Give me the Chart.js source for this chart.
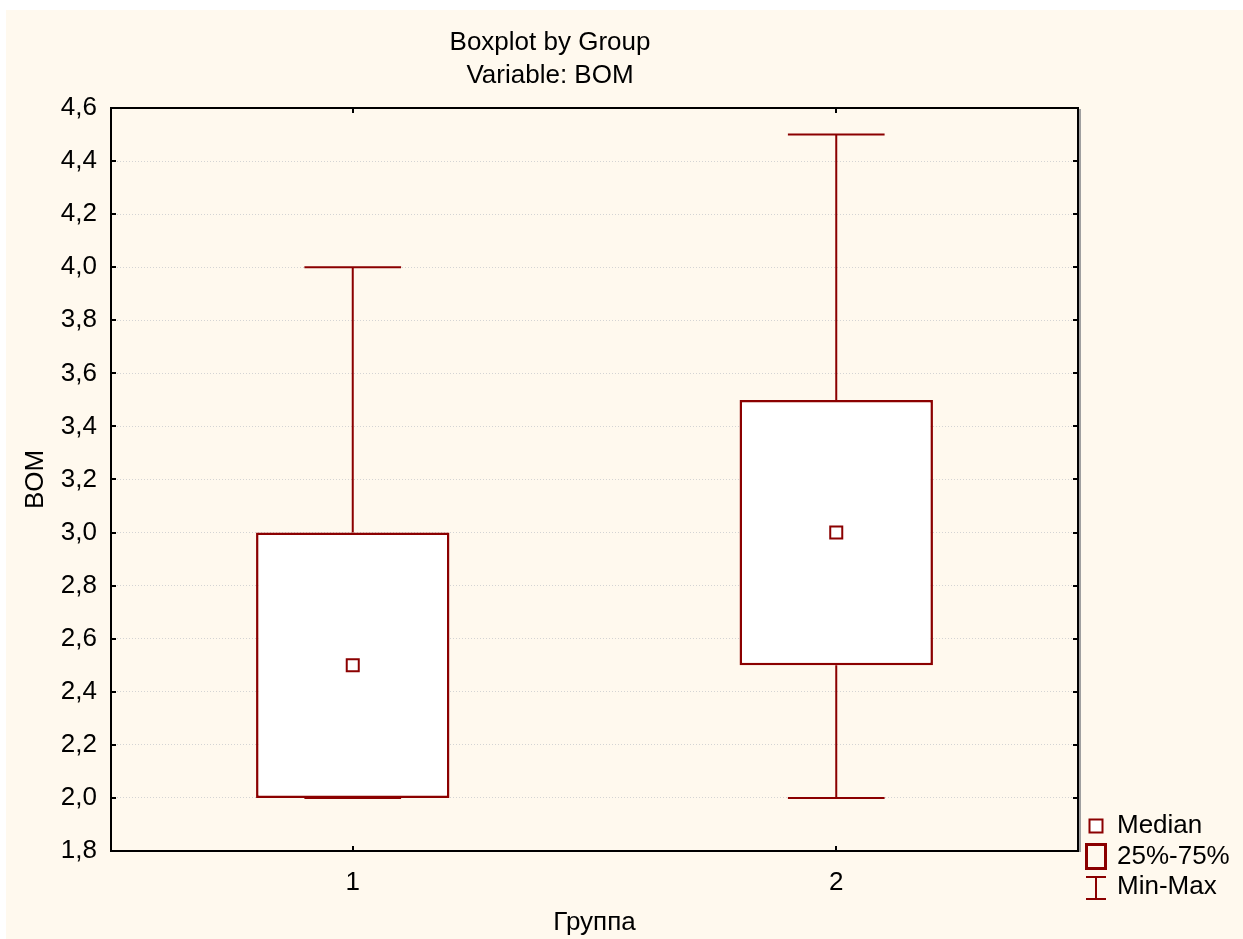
<!DOCTYPE html>
<html>
<head>
<meta charset="utf-8">
<script src="https://cdn.jsdelivr.net/npm/chart.js@4"></script>
<style>
  html, body { margin: 0; padding: 0; background: #ffffff; }
  #frame { position: absolute; left: 6px; top: 10px; width: 1237px; height: 929px; background: #fff9ee; }
  canvas { display: block; }
</style>
</head>
<body>
<div id="frame"><canvas id="chart" width="1237" height="929"></canvas></div>
<script>
// Group labels and five-number summaries of BOM per group
const groups = ['1', '2'];
const minValues = [2.0, 2.0];
const q1Values = [2.0, 2.5];
const medianValues = [2.5, 3.0];
const q3Values = [3.0, 3.5];
const maxValues = [4.0, 4.5];

// Value axis range and tick step
const yMin = 1.8;
const yMax = 4.6;
const yStep = 0.2;

const titleLines = ['Boxplot by Group', 'Variable: BOM'];
const legendLabels = ['Median', '25%-75%', 'Min-Max'];

const RED = '#8b0000';
const FONT_FAMILY = '"Liberation Sans", Arial, sans-serif';
const FONT_SIZE = 26;

// Whiskers (min-max lines with caps), drawn from the scales
const whiskerPlugin = {
  id: 'whiskers',
  beforeDatasetsDraw(chart) {
    const { ctx, scales: { y } } = chart;
    const bars = chart.getDatasetMeta(0).data;
    ctx.save();
    ctx.strokeStyle = RED;
    ctx.lineWidth = 2;
    groups.forEach((g, i) => {
      const bar = bars[i];
      const cx = bar.x;
      const half = bar.width / 4;
      const yMaxPx = y.getPixelForValue(maxValues[i]);
      const yMinPx = y.getPixelForValue(minValues[i]);
      const yQ1 = y.getPixelForValue(q1Values[i]);
      const yQ3 = y.getPixelForValue(q3Values[i]);
      ctx.beginPath();
      ctx.moveTo(cx, yQ3); ctx.lineTo(cx, yMaxPx);
      ctx.moveTo(cx - half, yMaxPx); ctx.lineTo(cx + half, yMaxPx);
      ctx.moveTo(cx, yQ1); ctx.lineTo(cx, yMinPx);
      ctx.moveTo(cx - half, yMinPx); ctx.lineTo(cx + half, yMinPx);
      ctx.stroke();
    });
    ctx.restore();
  }
};

// Plot frame with inward tick marks, title block and legend
const decorPlugin = {
  id: 'decor',
  afterDraw(chart) {
    const { ctx, chartArea: a, scales: { x, y } } = chart;
    ctx.save();
    // shadow on the right edge of the frame
    ctx.strokeStyle = '#a0a0a0';
    ctx.lineWidth = 2;
    ctx.beginPath();
    ctx.moveTo(a.right + 2, a.top + 1);
    ctx.lineTo(a.right + 2, a.bottom + 1);
    ctx.stroke();
    // frame
    ctx.strokeStyle = '#000';
    ctx.lineWidth = 2;
    ctx.strokeRect(a.left, a.top, a.right - a.left, a.bottom - a.top);
    // inward ticks
    const tl = 5;
    ctx.beginPath();
    y.ticks.forEach(t => {
      const py = Math.round(y.getPixelForValue(t.value));
      ctx.moveTo(a.left, py); ctx.lineTo(a.left + tl, py);
      ctx.moveTo(a.right, py); ctx.lineTo(a.right - tl, py);
    });
    groups.forEach((g, i) => {
      const px = Math.round(x.getPixelForValue(i));
      ctx.moveTo(px, a.bottom); ctx.lineTo(px, a.bottom - tl);
      ctx.moveTo(px, a.top); ctx.lineTo(px, a.top + tl);
    });
    ctx.stroke();

    // title
    ctx.fillStyle = '#000';
    ctx.font = `${FONT_SIZE}px ${FONT_FAMILY}`;
    ctx.textAlign = 'center';
    ctx.textBaseline = 'middle';
    ctx.fillText(titleLines[0], 544, 33);
    ctx.fillText(titleLines[1], 544, 66);

    // legend
    const lx = 1090;
    ctx.textAlign = 'left';
    ctx.fillText(legendLabels[0], 1111, 816);
    ctx.fillText(legendLabels[1], 1111, 847);
    ctx.fillText(legendLabels[2], 1111, 877);
    ctx.strokeStyle = RED;
    ctx.fillStyle = '#fff';
    // median marker
    ctx.lineWidth = 2;
    ctx.fillRect(lx - 6.5, 809.5, 13, 13);
    ctx.strokeRect(lx - 6.5, 809.5, 13, 13);
    // quartile box
    ctx.lineWidth = 3;
    ctx.strokeRect(lx - 9.5, 834.5, 19, 24);
    // min-max whisker
    ctx.lineWidth = 2;
    ctx.beginPath();
    ctx.moveTo(lx - 10, 867); ctx.lineTo(lx + 10, 867);
    ctx.moveTo(lx, 867); ctx.lineTo(lx, 889);
    ctx.moveTo(lx - 10, 889); ctx.lineTo(lx + 10, 889);
    ctx.stroke();
    ctx.restore();
  }
};

const tickFont = { family: FONT_FAMILY, size: FONT_SIZE };

new Chart(document.getElementById('chart'), {
  type: 'bar',
  data: {
    labels: groups,
    datasets: [
      {
        type: 'bar',
        label: legendLabels[1],
        data: groups.map((g, i) => [q1Values[i], q3Values[i]]),
        backgroundColor: '#ffffff',
        borderColor: RED,
        borderWidth: 2.5,
        borderSkipped: false,
        barPercentage: 0.4,
        categoryPercentage: 1,
        order: 2
      },
      {
        type: 'line',
        label: legendLabels[0],
        data: medianValues,
        showLine: false,
        pointStyle: 'rect',
        pointRadius: 8.5,
        pointHoverRadius: 8.5,
        pointBackgroundColor: '#ffffff',
        pointBorderColor: RED,
        pointBorderWidth: 2,
        order: 1
      }
    ]
  },
  options: {
    responsive: false,
    devicePixelRatio: 1,
    animation: false,
    events: [],
    layout: { padding: { left: 0, top: 98, right: 165, bottom: 0 } },
    plugins: {
      legend: { display: false },
      title: { display: false },
      tooltip: { enabled: false }
    },
    scales: {
      x: {
        type: 'category',
        offset: true,
        grid: { display: false, drawTicks: false },
        border: { display: false },
        ticks: { font: tickFont, color: '#000', padding: 16 },
        title: {
          display: true,
          text: 'Группа',
          font: tickFont,
          color: '#000',
          padding: { top: 0, bottom: 1 }
        },
        afterFit(scale) { scale.height = 88; }
      },
      y: {
        min: yMin,
        max: yMax,
        grid: { color: '#d4d4d4', lineWidth: 1, drawTicks: false },
        border: { display: false, dash: [1, 2] },
        ticks: {
          stepSize: yStep,
          font: tickFont,
          color: '#000',
          padding: 14,
          callback: v => v.toFixed(1).replace('.', ',')
        },
        title: {
          display: true,
          text: 'BOM',
          font: tickFont,
          color: '#000',
          padding: { top: 14, bottom: 0 }
        },
        afterFit(scale) { scale.width = 105; }
      }
    }
  },
  plugins: [whiskerPlugin, decorPlugin]
});
</script>
</body>
</html>
